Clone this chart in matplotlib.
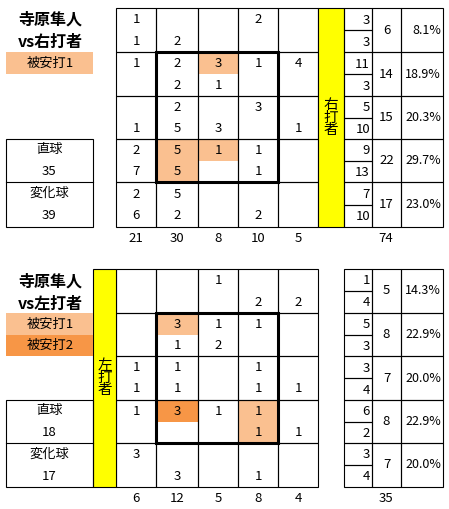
import matplotlib.pyplot as plt
from matplotlib.patches import Rectangle

plt.rcParams['font.family'] = ['Noto Sans CJK JP', 'DejaVu Sans']

# 右打者: 上段=直球, 下段=変化球 (行=高さ, 列=コース)
rhp_fast = [[1, 0, 0, 2, 0],
            [1, 2, 3, 1, 4],
            [0, 2, 0, 3, 0],
            [2, 5, 1, 1, 0],
            [2, 5, 0, 0, 0]]
rhp_break = [[1, 2, 0, 0, 0],
             [0, 2, 1, 0, 0],
             [1, 5, 3, 0, 1],
             [7, 5, 0, 1, 0],
             [6, 2, 0, 2, 0]]
rhp_hit1 = [(1, 2, 0), (3, 1, 0), (3, 1, 1), (3, 2, 0)]
rhp_hit2 = []

# 左打者
lhp_fast = [[0, 0, 1, 0, 0],
            [0, 3, 1, 1, 0],
            [1, 1, 0, 1, 0],
            [1, 3, 1, 1, 0],
            [3, 0, 0, 0, 0]]
lhp_break = [[0, 0, 0, 2, 2],
             [0, 1, 2, 0, 0],
             [1, 1, 0, 1, 1],
             [0, 0, 0, 1, 1],
             [0, 3, 0, 1, 0]]
lhp_hit1 = [(1, 1, 0), (3, 3, 0), (3, 3, 1)]
lhp_hit2 = [(3, 1, 0)]

pitcher = '寺原隼人'
c_hit1 = '#FAC090'
c_hit2 = '#F79646'
c_side = '#FFFF00'

fig = plt.figure(figsize=(4.49, 5.09), dpi=100)
ax = fig.add_axes([0, 0, 1, 1])
ax.set_xlim(0, 449)
ax.set_ylim(509, 0)
ax.axis('off')

xs = [116, 156, 198, 238, 278, 318]
xr = [344, 372, 401, 443]
lw = 0.8
fs = 9.5


def box(x0, y0, x1, y1, fc='none', lw=lw, ec='black'):
    ax.add_patch(Rectangle((x0, y0), x1 - x0, y1 - y0, fc=fc, ec=ec, lw=lw))


def txt(x, y, s, ha='center', **kw):
    ax.text(x, y, s, ha=ha, va='center', fontsize=kw.pop('size', fs), **kw)


def panel(ys, fast, brk, hit1, hit2, side, strip_x, label, extra_gap):
    # ヒットのセル
    for hits, col in ((hit1, c_hit1), (hit2, c_hit2)):
        for r, c, s in hits:
            h = (ys[r + 1] - ys[r]) / 2
            box(xs[c], ys[r] + s * h, xs[c + 1], ys[r] + (s + 1) * h,
                fc=col, ec='none')
    # グリッド
    for r in range(5):
        for c in range(5):
            box(xs[c], ys[r], xs[c + 1], ys[r + 1])
            h = ys[r + 1] - ys[r]
            cx = (xs[c] + xs[c + 1]) / 2
            if fast[r][c]:
                txt(cx, ys[r] + h * 0.27, str(fast[r][c]))
            if brk[r][c]:
                txt(cx, ys[r] + h * 0.75, str(brk[r][c]))
    box(xs[1], ys[1], xs[4], ys[4], lw=2.2)
    # 打者ストリップ
    box(strip_x[0], ys[0], strip_x[1], ys[5], fc=c_side)
    txt((strip_x[0] + strip_x[1]) / 2, (ys[0] + ys[5]) / 2,
        '\n'.join(side), size=10.5, linespacing=0.82)
    # 列合計
    ty = ys[5] + 12
    for c in range(5):
        tot = sum(fast[r][c] + brk[r][c] for r in range(5))
        txt((xs[c] + xs[c + 1]) / 2, ty, str(tot))
    grand = sum(map(sum, fast)) + sum(map(sum, brk))
    txt(386, ty, str(grand))
    # 右の表
    for r in range(5):
        y0, y1 = ys[r], ys[r + 1]
        ym = (y0 + y1) / 2
        box(xr[0], y0, xr[1], ym)
        box(xr[0], ym, xr[1], y1)
        box(xr[1], y0, xr[2], y1)
        box(xr[2], y0, xr[3], y1)
        f, b = sum(fast[r]), sum(brk[r])
        txt(xr[1] - 2, (y0 + ym) / 2 + 1, str(f), ha='right')
        txt(xr[1] - 2, (ym + y1) / 2 + 1, str(b), ha='right')
        txt((xr[1] + xr[2]) / 2, ym, str(f + b))
        txt(xr[3] - 2, ym, f'{(f + b) / grand * 100:.1f}%', ha='right',
            size=9)
    # 左のラベル
    txt(50, ys[0] + 12 + extra_gap, pitcher, size=11.5, fontweight='bold')
    txt(50, ys[0] + 34 + extra_gap, 'vs' + label, size=11.5, fontweight='bold')
    hy = ys[1]
    box(6, hy, 93, hy + 21.5, fc=c_hit1, ec='none')
    txt(50, hy + 11, '被安打1')
    if hit2:
        box(6, hy + 21.5, 93, hy + 43, fc=c_hit2, ec='none')
        txt(50, hy + 32.5, '被安打2')
    box(6, ys[3], 93, ys[5])
    ax.plot([6, 93], [ys[4], ys[4]], color='black', lw=lw)
    nf, nb = sum(map(sum, fast)), sum(map(sum, brk))
    h3 = (ys[4] - ys[3]) / 2
    h4 = (ys[5] - ys[4]) / 2
    txt(49, ys[3] + h3 * 0.5, '直球')
    txt(49, ys[3] + h3 * 1.5, str(nf))
    txt(49, ys[4] + h4 * 0.5, '変化球')
    txt(49, ys[4] + h4 * 1.5, str(nb))


panel([8, 52, 96, 139, 182, 227], rhp_fast, rhp_break, rhp_hit1, rhp_hit2,
      '右打者', (318, 344), '右打者', 0)
panel([269, 313, 356, 400, 443, 487], lhp_fast, lhp_break, lhp_hit1, lhp_hit2,
      '左打者', (93, 116), '左打者', 1)

fig.savefig('out.png', dpi=100)
